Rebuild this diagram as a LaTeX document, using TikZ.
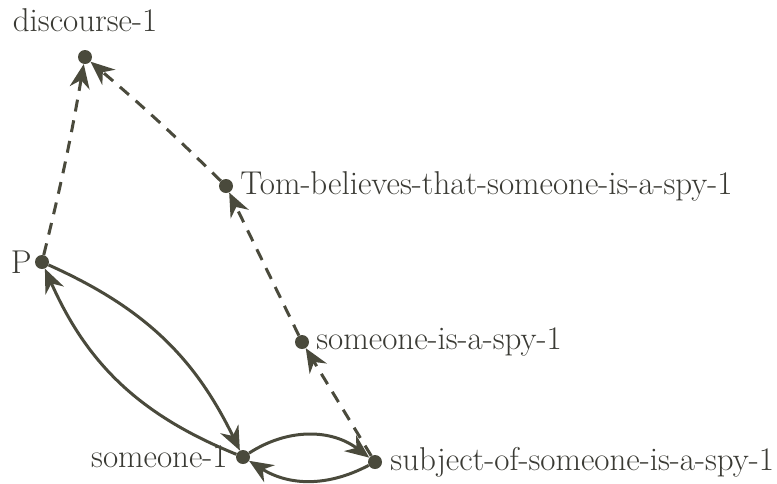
\documentclass[tikz,border=0pt]{standalone}
\usetikzlibrary{arrows.meta,positioning}
\definecolor{InkGrey}{HTML}{4A4A3C}
\definecolor{TextGrey}{HTML}{3A3A34}
\begin{document}
\begin{tikzpicture}[x=1pt,y=-1pt,
  pt/.style={circle,fill=InkGrey,inner sep=0pt,minimum size=14pt},
  lbl/.style={text=TextGrey,font=\fontsize{33}{38}\selectfont,inner sep=0pt},
  link/.style={-{Stealth[length=24pt,width=20pt]},line width=3pt,draw=InkGrey},
  dlink/.style={link,dash pattern=on 12pt off 9pt}]
\useasboundingbox (0,0) rectangle (777,483);
\node[pt,label={[lbl,label distance=18pt]above:discourse-1}] (disc) at (85,57) {};
\node[pt,label={[lbl,label distance=7pt]right:Tom-believes-that-someone-is-a-spy-1}] (tom) at (226,186) {};
\node[pt,label={[lbl,label distance=3pt]left:P}] (p) at (42,262) {};
\node[pt,label={[lbl,label distance=7pt]right:someone-is-a-spy-1}] (spy) at (302,342) {};
\node[pt,label={[lbl,label distance=8pt]left:someone-1}] (one) at (243,457) {};
\node[pt,label={[lbl,label distance=8pt]right:subject-of-someone-is-a-spy-1}] (subj) at (375,462) {};
% dashed links
\draw[dlink] (p) to[bend right=2] (disc);
\draw[dlink] (tom) to[bend right=2] (disc);
\draw[dlink] (spy) -- (tom);
\draw[dlink] (subj) -- (spy);
% solid links
\draw[link] (p) to[bend left=20] (one);
\draw[link] (one) to[bend left=22] (p);
\draw[link] (one) to[bend left=35] (subj);
\draw[link] (subj) to[bend left=30] (one);
\end{tikzpicture}
\end{document}
